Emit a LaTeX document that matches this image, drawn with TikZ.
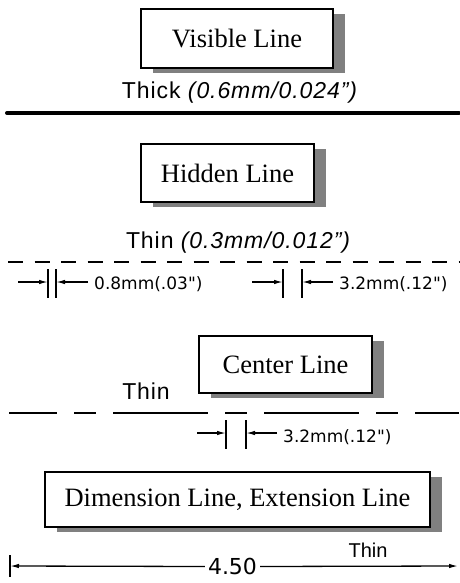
\documentclass[tikz,border=0pt]{standalone}
\usepackage{fontspec}
\setmainfont{Liberation Serif}
\setsansfont{Liberation Sans}
\newfontfamily\dimfont{DejaVu Sans}
\usetikzlibrary{arrows.meta,shadows}
\definecolor{shadowgray}{HTML}{808080}
\begin{document}
\begin{tikzpicture}[x=1pt,y=-1pt,
  titlebox/.style={draw=black,line width=1.6pt,fill=white,inner sep=0pt,
    font=\fontsize{26.5}{30}\selectfont,
    drop shadow={shadow xshift=12pt,shadow yshift=-5pt,opacity=1,fill=shadowgray}},
  lbl/.style={font=\sffamily\addfontfeature{LetterSpace=4}\fontsize{23}{26}\selectfont,inner sep=0pt},
  dimtext/.style={font=\dimfont\fontsize{17}{20}\selectfont,inner sep=0pt},
  thinline/.style={line width=1.3pt},
  tickline/.style={line width=1.3pt},
  dimarrow/.style={line width=1.3pt,-{Latex[length=9pt,width=4.5pt]}}
]
\useasboundingbox (0,0) rectangle (459,583);

% ---- Visible line ----
\node[titlebox,minimum width=192pt,minimum height=59pt] (visible) at (237,38.5) {Visible Line};
\node[lbl,anchor=base] (thicklbl) at (240,99) {Thick \textit{(0.6mm/0.024")}};
\coordinate (vl0) at (7,113);
\coordinate (vl1) at (459,113);
\draw[line width=4pt,line cap=round] (vl0) -- (vl1);

% ---- Hidden line ----
\node[titlebox,minimum width=173pt,minimum height=58pt] (hidden) at (227.5,173) {Hidden Line};
\node[lbl,anchor=base] (hiddenlbl) at (238.5,248) {Thin \textit{(0.3mm/0.012")}};
\coordinate (hl0) at (8,262);
\coordinate (hl1) at (459,262);
\draw[thinline,dash pattern=on 15pt off 11.5pt] (hl0) -- (hl1);

% dimension 0.8mm
\coordinate (ta1) at (48,269); \coordinate (tb1) at (48,298);
\coordinate (ta2) at (56,269); \coordinate (tb2) at (56,298);
\draw[tickline] (ta1) -- (tb1);
\draw[tickline] (ta2) -- (tb2);
\coordinate (a1s) at (18,282); \coordinate (a1e) at (48,282);
\coordinate (a2s) at (88,282); \coordinate (a2e) at (56,282);
\draw[dimarrow] (a1s) -- (a1e);
\draw[dimarrow] (a2s) -- (a2e);
\node[dimtext,anchor=base west] (d08) at (94,289) {0.8mm(.03")};

% dimension 3.2mm
\coordinate (ta3) at (283,269); \coordinate (tb3) at (283,298);
\coordinate (ta4) at (302,269); \coordinate (tb4) at (302,298);
\draw[tickline] (ta3) -- (tb3);
\draw[tickline] (ta4) -- (tb4);
\coordinate (a3s) at (252,282); \coordinate (a3e) at (283,282);
\coordinate (a4s) at (333,282); \coordinate (a4e) at (302,282);
\draw[dimarrow] (a3s) -- (a3e);
\draw[dimarrow] (a4s) -- (a4e);
\node[dimtext,anchor=base west] (d32a) at (339,289) {3.2mm(.12")};

% ---- Center line ----
\node[titlebox,minimum width=173pt,minimum height=57pt] (center) at (285.5,364.5) {Center Line};
\node[lbl,anchor=base] (centerlbl) at (146,399) {Thin};
\coordinate (cl0) at (9,413);
\coordinate (cl1) at (459,413);
\draw[thinline,dash pattern=on 95pt off 17pt on 22pt off 17pt,dash phase=47pt] (cl0) -- (cl1);

\coordinate (ta5) at (226,420); \coordinate (tb5) at (226,449);
\coordinate (ta6) at (246,420); \coordinate (tb6) at (246,449);
\draw[tickline] (ta5) -- (tb5);
\draw[tickline] (ta6) -- (tb6);
\coordinate (a5s) at (197,433); \coordinate (a5e) at (226,433);
\coordinate (a6s) at (277,433); \coordinate (a6e) at (246,433);
\draw[dimarrow] (a5s) -- (a5e);
\draw[dimarrow] (a6s) -- (a6e);
\node[dimtext,anchor=base west] (d32b) at (283,442) {3.2mm(.12")};

% ---- Dimension / extension line ----
\node[titlebox,minimum width=385pt,minimum height=55pt] (dimension) at (237.5,499.5) {Dimension Line, Extension Line};
\node[lbl,font=\sffamily\fontsize{20}{24}\selectfont,anchor=base] (dimlbl) at (368,557) {Thin};
\coordinate (ext0) at (10,555); \coordinate (ext1) at (10,577);
\draw[tickline] (ext0) -- (ext1);
\node[font=\dimfont\fontsize{22}{26}\selectfont,inner sep=3pt] (num) at (232.5,566.5) {4.50};
\coordinate (dl0) at (10,566);
\coordinate (dl1) at (458,566);
\draw[dimarrow] (num.west) -- (dl0);
\draw[dimarrow] (num.east) -- (dl1);
\end{tikzpicture}
\end{document}
